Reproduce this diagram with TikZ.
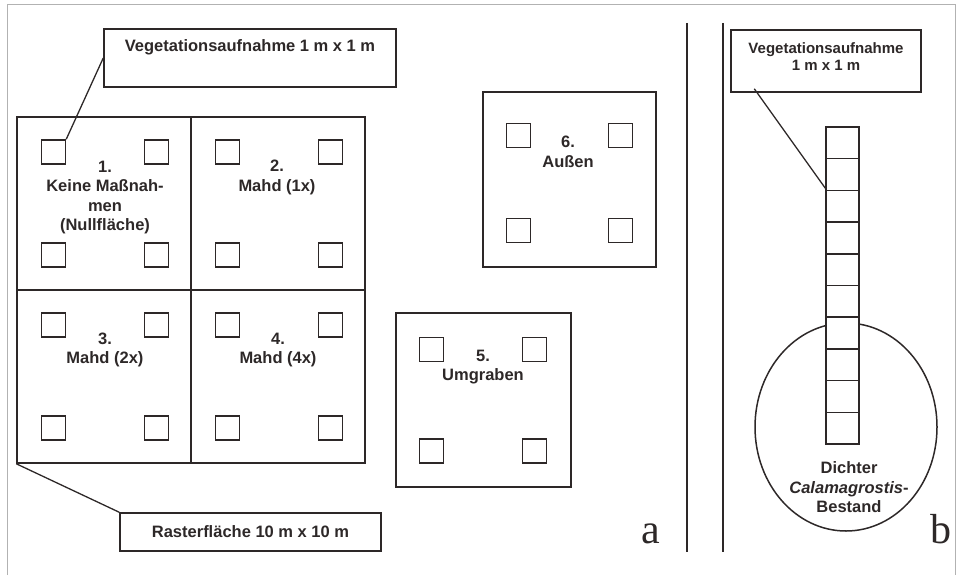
\documentclass[tikz,border=0pt]{standalone}
\usepackage{fontspec}
\setmainfont{Liberation Sans}
\newfontfamily\letterfont{Liberation Serif}
\usetikzlibrary{shapes.geometric}
\definecolor{ink}{RGB}{45,40,40}
\definecolor{framegray}{RGB}{178,178,178}
\begin{document}
\begin{tikzpicture}[x=1pt,y=-1pt,
  plot/.style={draw=ink, line width=1.5pt, minimum size=24pt, inner sep=0pt, fill=white},
  field/.style={draw=ink, line width=1.5pt, inner sep=0pt},
  cell/.style={draw=ink, line width=1.5pt, inner sep=0pt, fill=white,
               minimum width=33pt, minimum height=31.7pt},
  lab/.style={font=\bfseries\fontsize{16.5}{19.5}\selectfont, text=ink, align=center, inner sep=0pt},
  smalllab/.style={font=\bfseries\fontsize{15}{17}\selectfont, text=ink, align=center, inner sep=0pt},
  lead/.style={draw=ink, line width=1.3pt},
  letter/.style={font=\letterfont\fontsize{42}{42}\selectfont, text=ink, inner sep=0pt}
]
\useasboundingbox (0,0) rectangle (957,575);

% outer frame, open at the bottom
\draw[framegray, line width=1pt] (7,575) -- (7,5) -- (955,5) -- (955,575);

% ---------- part a: 10 m x 10 m grid ----------
\node[field, minimum width=174pt, minimum height=173pt] (g1) at (104,203.5) {};
\node[field, minimum width=174pt, minimum height=173pt] (g2) at (278,203.5) {};
\node[field, minimum width=174pt, minimum height=173pt] (g3) at (104,376.5) {};
\node[field, minimum width=174pt, minimum height=173pt] (g4) at (278,376.5) {};

% 1 m x 1 m plots in the grid cells
\foreach \cx/\cy/\n in {17/117/1, 191/117/2, 17/290/3, 191/290/4}{
  \node[plot] (q\n a) at (\cx+36.5,\cy+35) {};
  \node[plot] (q\n b) at (\cx+139.5,\cy+35) {};
  \node[plot] (q\n c) at (\cx+36.5,\cy+138) {};
  \node[plot] (q\n d) at (\cx+139.5,\cy+138) {};
}

\node[lab] (t1) at (105,197.5) {1.\\Keine Maßnah-\\men\\(Nullfläche)};
\node[lab] (t2) at (277,177.5) {2.\\Mahd (1x)};
\node[lab] (t3) at (105,350) {3.\\Mahd (2x)};
\node[lab] (t4) at (278,350) {4.\\Mahd (4x)};

% label boxes for part a
\node[field, minimum width=292pt, minimum height=58pt, fill=white] (vbox) at (250,58) {};
\node[lab] (vtext) at (250,47) {Vegetationsaufnahme 1 m x 1 m};
\node[field, minimum width=261pt, minimum height=38pt] (rbox) at (250.5,532) {};
\node[lab] (rtext) at (250.5,532) {Rasterfläche 10 m x 10 m};

\draw[lead] (vbox.west) -- (q1a.north east);
\draw[lead] (g3.south west) -- (rbox.north west);

% field 5
\node[field, minimum width=175pt, minimum height=174pt] (f5) at (483.5,400) {};
\node[plot] (q5a) at (431.5,349.5) {};
\node[plot] (q5b) at (534.5,349.5) {};
\node[plot] (q5c) at (431.5,451) {};
\node[plot] (q5d) at (534.5,451) {};
\node[lab] (t5) at (483,367) {5.\\Umgraben};

% field 6
\node[field, minimum width=173pt, minimum height=175pt] (f6) at (569.5,179.5) {};
\node[plot] (q6a) at (518.5,135.5) {};
\node[plot] (q6b) at (620.5,135.5) {};
\node[plot] (q6c) at (518.5,230.5) {};
\node[plot] (q6d) at (620.5,230.5) {};
\node[lab] (t6) at (568,152) {6.\\Außen};

\node[letter, anchor=base] (la) at (651,543) {a};

% ---------- separating lines ----------
\coordinate (s1t) at (687,23);
\coordinate (s1b) at (687,552);
\coordinate (s2t) at (723,23);
\coordinate (s2b) at (723,552);
\draw[ink, line width=1.5pt] (s1t) -- (s1b);
\draw[ink, line width=1.5pt] (s2t) -- (s2b);

% ---------- part b: transect ----------
\node[field, draw=ink, ellipse, minimum width=182pt, minimum height=208pt] (stand) at (846,427) {};
\foreach \i in {1,...,10}{
  \node[cell] (c\i) at (842.5,{127+31.7*(\i-0.5)}) {};
}
\node[lab] (tb) at (849,487.5) {Dichter\\\textit{Calamagrostis}-\\Bestand};

\node[field, minimum width=190pt, minimum height=62pt] (vboxb) at (826,61) {};
\node[smalllab] (vtextb) at (826,56.5) {Vegetationsaufnahme\\1 m x 1 m};
\draw[lead] ([xshift=24pt,yshift=4pt]vboxb.south west) -- ([yshift=3pt]c2.south west);

\node[letter, anchor=base] (lb) at (941,543) {b};
\end{tikzpicture}
\end{document}
